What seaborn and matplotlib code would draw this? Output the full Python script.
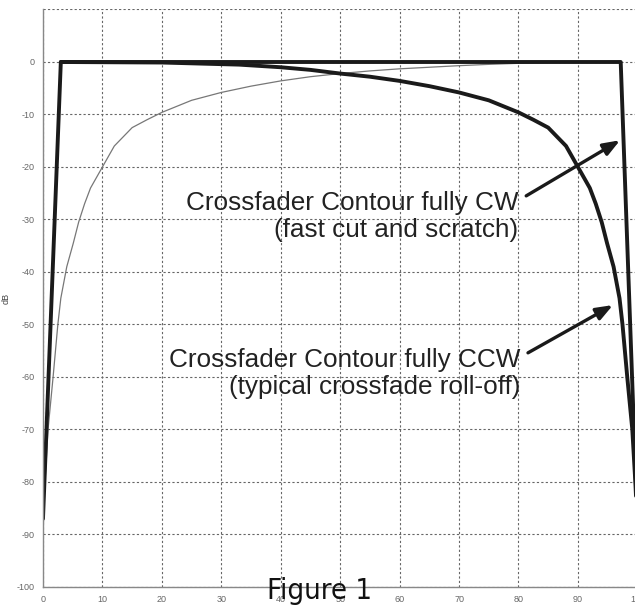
import numpy as np
import pandas as pd
import matplotlib
matplotlib.use("Agg")
import matplotlib.pyplot as plt
import seaborn as sns

# crossfader curves (position vs dB)
cw_x = [0, 3.0, 97.2, 100]
cw_y = [-87, 0, 0, -88]

ccw_x = [3.0, 20, 33, 40, 45, 50, 55, 60, 65, 70, 75, 80, 82.5, 85, 88, 90, 92,
         93, 94, 94.9, 96, 97, 97.5, 98.3, 99.15, 99.66, 100]
ccw_y = [0, -0.1, -0.5, -1.0, -1.5, -2.2, -2.8, -3.6, -4.6, -5.8, -7.3, -9.6, -11, -12.5, -16, -20, -24,
         -27, -30.5, -34.5, -39, -45, -50, -60, -70, -80, -88]

other_x = [0, 0.34, 0.85, 1.7, 2.5, 3.0, 4.0, 5.1, 6.0, 7.0, 8.0, 10, 12, 15, 17.5, 20, 25, 30,
           35, 40, 45, 50, 55, 60, 65, 70, 75, 80, 85, 90, 97]
other_y = [-90, -80, -70, -60, -50, -45, -39, -34.5, -30.5, -27, -24, -20, -16, -12.5, -11, -9.6, -7.3, -5.8,
           -4.6, -3.6, -2.8, -2.2, -1.7, -1.3, -1.0, -0.7, -0.45, -0.25, -0.1, 0, 0]

x_ticks = [0, 10, 20, 30, 40, 50, 60, 70, 80, 90, 100]
y_ticks = [0, -10, -20, -30, -40, -50, -60, -70, -80, -90, -100]

notes = [
    ("Crossfader Contour fully CW\n(fast cut and scratch)", (81.3, -25.5), (97.1, -14.9)),
    ("Crossfader Contour fully CCW\n(typical crossfade roll-off)", (81.6, -55.4), (95.9, -46.3)),
]

sns.set_style("white")
plt.rcParams['font.family'] = ['Liberation Sans', 'DejaVu Sans']

fig = plt.figure(figsize=(6.35, 6.05), dpi=100)
ax = fig.add_axes([0.0677, 0.0298, 0.936, 0.9545])

other = pd.DataFrame({"x": other_x, "y": other_y})
ccw = pd.DataFrame({"x": ccw_x, "y": ccw_y})
cw = pd.DataFrame({"x": cw_x, "y": cw_y})

sns.lineplot(data=other, x="x", y="y", sort=False, estimator=None, color="#777777", linewidth=0.9, ax=ax)
sns.lineplot(data=ccw, x="x", y="y", sort=False, estimator=None, color="#1a1a1a", linewidth=2.8, ax=ax)
sns.lineplot(data=cw, x="x", y="y", sort=False, estimator=None, color="#1a1a1a", linewidth=2.8, ax=ax)

ax.set_xlim(0, 100)
ax.set_ylim(-100, 10)
ax.set_xticks(x_ticks)
ax.set_yticks(y_ticks + [10])
ax.set_yticklabels([str(v) for v in y_ticks] + [""])
ax.grid(True, color="#666666", linestyle=(0, (2, 2)), linewidth=0.8)
ax.tick_params(axis="both", labelsize=6.5, labelcolor="#666666", color="#888888",
               length=4, width=0.8, direction="out", pad=2)
for side in ["top", "right"]:
    ax.spines[side].set_visible(False)
for side in ["left", "bottom"]:
    ax.spines[side].set_color("#888888")
    ax.spines[side].set_linewidth(1.0)

ax.set_xlabel("")
ax.set_ylabel("dB", fontsize=6.5, color="#444444", labelpad=4)

for label, start, tip in notes:
    ax.annotate("", xy=tip, xytext=start,
                arrowprops=dict(arrowstyle="-|>,head_length=1.0,head_width=0.38",
                                color="#1a1a1a", lw=2.4, shrinkA=0, shrinkB=0))
    ax.text(start[0] - 1.3, start[1] + 1.0, label, ha="right", va="top",
            fontsize=18.8, color="#222222", linespacing=1.2)

fig.text(0.503, 0.0, "Figure 1", ha="center", va="bottom", fontsize=21,
         family="DejaVu Sans", stretch="condensed", color="#111111")

fig.savefig("out.png", dpi=100)
